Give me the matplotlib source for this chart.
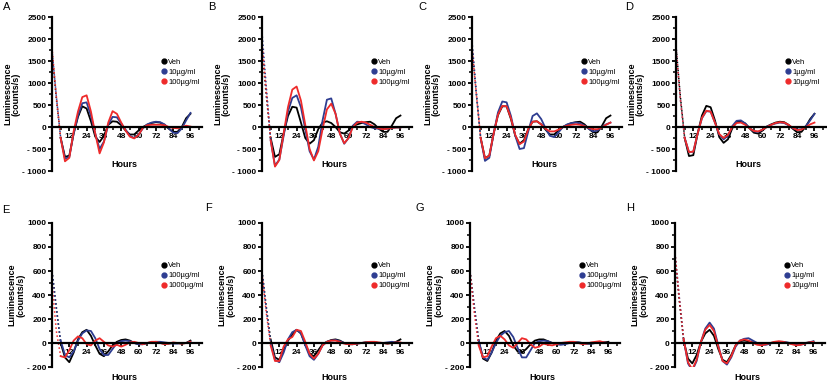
import matplotlib
matplotlib.use("Agg")
import matplotlib.pyplot as plt
from matplotlib.lines import Line2D
from matplotlib.ticker import MultipleLocator

plt.rcParams['font.family'] = ['Liberation Sans', 'DejaVu Sans']

# Waktu (jam), sampel tiap 3 jam
hours = list(range(0, 97, 3))

# Panel A
a_veh = [1700, 650, -250, -680, -650, -150, 230, 470, 420, 130, -220, -340, -200, 50, 130, 120, 40,
         -80, -170, -170, -80, 0, 50, 90, 110, 100, 50, -40, -110, -110, 0, 200, 300]
a_lo = [1750, 700, -250, -720, -680, -150, 260, 540, 560, 250, -150, -500, -330, 50, 230, 220, 80,
        -60, -200, -250, -170, -30, 60, 100, 120, 110, 60, -30, -130, -140, -30, 150, 320]
a_hi = [1800, 700, -250, -780, -700, -100, 350, 680, 720, 350, -150, -600, -350, 100, 360, 300, 100,
        -80, -220, -260, -180, -20, 40, 50, 50, 50, 40, 0, -20, -30, 0, 30, 10]

# Panel B
b_veh = [1800, 700, -250, -680, -620, -150, 250, 460, 440, 100, -250, -380, -300, -50, 100, 130, 90,
         0, -120, -150, -80, 20, 60, 90, 110, 120, 60, -40, -110, -110, 30, 200, 260]
b_lo = [2150, 900, -300, -880, -740, -200, 350, 660, 720, 450, -50, -550, -740, -450, 150, 620, 650,
        300, -150, -380, -250, 30, 120, 110, 60, 0, -30, -40, -50, -40, -20, -10, -10]
b_hi = [1900, 800, -300, -900, -750, -150, 450, 850, 920, 600, 50, -500, -760, -550, -50, 400, 530,
        300, -150, -370, -250, 0, 100, 120, 100, 50, 0, -30, -50, -40, -20, -10, -10]

# Panel C
c_veh = [1850, 750, -250, -710, -650, -150, 270, 470, 470, 180, -200, -380, -300, -50, 120, 130, 60,
         -60, -170, -170, -80, 0, 50, 90, 110, 120, 60, -40, -120, -120, 20, 200, 260]
c_lo = [1950, 800, -250, -770, -700, -150, 330, 580, 560, 250, -200, -500, -480, -100, 250, 310, 180,
        -30, -200, -230, -120, 0, 60, 90, 100, 80, 30, -40, -100, -80, 0, 60, 100]
c_hi = [1800, 750, -250, -710, -650, -150, 280, 480, 470, 200, -180, -390, -330, -50, 120, 130, 60,
        -40, -100, -100, -60, 0, 30, 50, 60, 50, 20, -20, -50, -50, -10, 50, 100]

# Panel D
d_veh = [1850, 700, -250, -660, -640, -150, 260, 480, 450, 150, -230, -360, -280, -30, 110, 130, 80,
         -30, -130, -150, -80, 10, 60, 100, 120, 110, 50, -40, -120, -110, 10, 180, 300]
d_lo = [1800, 650, -250, -570, -560, -150, 200, 360, 350, 100, -170, -280, -200, 20, 140, 150, 80,
        -20, -100, -110, -60, 10, 50, 80, 100, 90, 40, -30, -60, -50, 20, 150, 300]
d_hi = [1800, 650, -250, -570, -560, -150, 210, 370, 350, 100, -160, -250, -180, 0, 90, 100, 50,
        -30, -90, -100, -60, 0, 50, 90, 110, 100, 50, -20, -70, -60, 0, 60, 100]

# Panel E
e_veh = [600, 300, 0, -120, -160, -80, 30, 90, 110, 60, -20, -90, -110, -70, -20, 10, 25,
         30, 20, 0, -10, -10, 0, 5, 5, 0, -5, -5, 0, 0, -5, 0, 20]
e_lo = [600, 280, 20, -100, -120, -70, 20, 80, 105, 100, 40, -50, -100, -100, -50, 0, 15,
        20, 15, 0, -10, -10, 0, 5, 10, 10, 5, 0, -5, -5, 0, 0, 10]
e_hi = [500, 100, -110, -120, -60, 20, 55, 40, -10, -20, 20, 40, 10, -20, -30, -15, -30,
        -15, 5, 10, 0, -10, 0, 10, 10, 0, -10, -5, 5, 0, -5, 0, 10]

# Panel F
f_veh = [600, 300, 30, -120, -140, -60, 20, 70, 110, 80, -10, -90, -110, -60, -10, 10, 25,
         30, 20, 0, -10, -10, 0, 0, 5, 5, 5, 0, 0, -5, 0, 10, 30]
f_lo = [600, 280, 0, -140, -160, -80, 30, 90, 110, 80, -20, -110, -140, -90, -20, 10, 20,
        25, 15, 0, -10, -10, -5, 0, 5, 5, 5, 0, 0, 5, 10, 5, 0]
f_hi = [580, 250, -20, -150, -150, -30, 30, 50, 110, 100, 10, -90, -130, -90, -20, 10, 20,
        20, 10, -5, -10, -10, -5, 0, 5, 10, 10, 5, 0, -5, 0, 5, 5]

# Panel G
g_veh = [600, 300, 20, -130, -150, -80, 20, 80, 100, 60, -20, -70, -80, -50, -10, 20, 30,
         30, 15, 0, -10, -10, 0, 0, 5, 5, 0, -5, -5, 0, 0, 5, 10]
g_lo = [600, 300, 20, -120, -140, -80, 0, 60, 90, 100, 50, -40, -120, -120, -60, 0, 15,
        20, 15, 0, -10, -15, -10, 0, 5, 5, 0, -5, -5, 0, 5, 5, 0]
g_hi = [600, 250, -20, -120, -110, -30, 40, 60, 30, -20, -40, 0, 40, 30, -10, -40, -30,
        -5, -15, -20, -10, 0, 5, 10, 10, 0, -10, -5, 5, 10, 15, 5, 0]

# Panel H
h_veh = [720, 350, 20, -130, -170, -100, 10, 80, 110, 60, -50, -140, -160, -100, -20, 15, 20,
         15, 5, -5, -10, -5, 0, 5, 5, 5, 0, -5, -10, -10, 0, 5, 10]
h_lo = [750, 380, 30, -170, -230, -150, 10, 120, 170, 120, -20, -150, -180, -120, -30, 20, 35,
        40, 20, 0, -15, -15, -5, 5, 10, 10, 5, -5, -15, -15, -5, 5, 15]
h_hi = [750, 370, 30, -160, -220, -140, 10, 110, 150, 100, -30, -150, -170, -110, -20, 20, 30,
        20, 0, -15, -20, -10, 0, 10, 15, 10, 0, -10, -20, -15, -5, 5, 10]

letters = ['A', 'B', 'C', 'D', 'E', 'F', 'G', 'H']
series = [(a_veh, a_lo, a_hi), (b_veh, b_lo, b_hi), (c_veh, c_lo, c_hi), (d_veh, d_lo, d_hi),
          (e_veh, e_lo, e_hi), (f_veh, f_lo, f_hi), (g_veh, g_lo, g_hi), (h_veh, h_lo, h_hi)]
labels = [['Veh', '10µg/ml', '100µg/ml'], ['Veh', '10µg/ml', '100µg/ml'],
          ['Veh', '10µg/ml', '100µg/ml'], ['Veh', '1µg/ml', '10µg/ml'],
          ['Veh', '100µg/ml', '1000µg/ml'], ['Veh', '10µg/ml', '100µg/ml'],
          ['Veh', '100µg/ml', '1000µg/ml'], ['Veh', '1µg/ml', '10µg/ml']]
colors = ['black', '#2e3d91', '#ee2a2a']

W, H = 827, 385
fig = plt.figure(figsize=(W / 100, H / 100), dpi=100)

# posisi sumbu dan huruf panel (piksel)
x_left = [52, 262, 472, 676, 52, 262, 470, 675]
axw = 150
letter_xy = [(7, 7), (212, 7), (422, 7), (629, 7), (6, 210), (208, 208), (420, 208), (630, 208)]

for i in range(8):
    top = i < 4
    if top:
        y0, y1 = 17, 171
    else:
        y0, y1 = 223, 367
    ax = fig.add_axes([x_left[i] / W, 1 - y1 / H, axw / W, (y1 - y0) / H])

    for s, c in zip(series[i], colors):
        ax.plot(hours[:3], s[:3], color=c, lw=1.1, ls=':')
        ax.plot(hours[2:], s[2:], color=c, lw=1.3, solid_joinstyle='round')

    ax.set_xlim(0, 104)
    if top:
        ax.set_ylim(-1000, 2500)
        ax.yaxis.set_minor_locator(MultipleLocator(250))
        yt = [-1000, -500, 0, 500, 1000, 1500, 2000, 2500]
    else:
        ax.set_ylim(-200, 1000)
        ax.yaxis.set_minor_locator(MultipleLocator(100))
        yt = [-200, 0, 200, 400, 600, 800, 1000]
    ax.set_yticks(yt)
    ax.set_yticklabels([('- %d' % -v) if v < 0 else str(v) for v in yt])

    ax.set_xticks([12, 24, 36, 48, 60, 72, 84, 96])
    ax.xaxis.set_minor_locator(MultipleLocator(6))

    ax.spines['top'].set_visible(False)
    ax.spines['right'].set_visible(False)
    ax.spines['bottom'].set_position(('data', 0))
    ax.spines['left'].set_linewidth(1.6)
    ax.spines['bottom'].set_linewidth(1.6)
    ax.tick_params(axis='both', which='major', length=3, width=1.3, labelsize=6, pad=1)
    ax.tick_params(axis='both', which='minor', length=2, width=1.1)
    for t in ax.get_xticklabels() + ax.get_yticklabels():
        t.set_fontweight('bold')

    ax.set_ylabel('Luminescence\n(counts/s)', fontsize=6.5, fontweight='bold', labelpad=1,
                  linespacing=1.0)

    hy = 0.04 if top else -0.076
    ax.text(0.48, hy, 'Hours', transform=ax.transAxes, ha='center', va='center',
            fontsize=6.5, fontweight='bold')

    handles = [Line2D([], [], marker='o', ls='none', color=c, markersize=3.5) for c in colors]
    ax.legend(handles, labels[i], loc='upper left', bbox_to_anchor=(0.72, 0.73), frameon=False,
              fontsize=5.5, handletextpad=0.1, labelspacing=0.35, borderpad=0, borderaxespad=0,
              handlelength=1.0)

    lx, lyp = letter_xy[i]
    fig.text(lx / W, 1 - lyp / H, letters[i], fontsize=8, ha='center', va='center')

fig.savefig('out.png', dpi=100)
